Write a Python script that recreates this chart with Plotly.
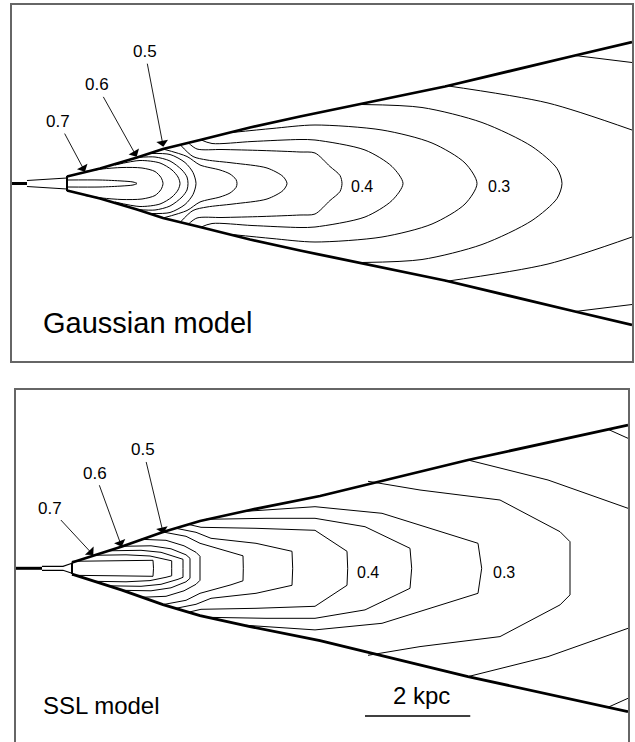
import plotly.graph_objects as go

# Jet surface-brightness contours for two velocity-field models.
# Coordinates are model grid cells: x along the jet from the nozzle,
# y perpendicular to the jet axis (upper half; the model is axisymmetric).
KPC_PER_CELL = 0.019
SCALE_BAR_KPC = 2

# ---------------- Gaussian model ----------------
gauss_nozzle_x = [0, 15]
gauss_tube_x = [15, 48, 55]
gauss_tube_y = [3.0, 4.5, 5.5]
gauss_wall_x = 55
gauss_wall_y = 7.5
gauss_edge_x = [55, 88, 125, 151, 188, 238, 288, 368, 433, 563, 620]
gauss_edge_y = [7.0, 15.0, 26.0, 34.5, 43.5, 56.0, 67.0, 83.5, 97.0, 128.0, 141.5]

gauss_levels = [0.75, 0.7, 0.65, 0.6, 0.55, 0.5, 0.45, 0.4, 0.35, 0.3, 0.25]
gauss_cx = [
    [55, 88, 110, 121, 125],
    [73, 90, 110, 130, 143, 149, 151],
    [103, 128, 148, 160, 166, 168],
    [125, 143, 158, 170, 175, 176],
    [138, 158, 173, 181, 184],
    [151, 175, 188, 208, 218, 224, 225],
    [168, 181, 195, 221, 255, 271, 275],
    [176, 185, 210, 250, 288, 303, 318, 328, 330],
    [188, 200, 240, 288, 303, 353, 380, 391],
    [220, 260, 303, 370, 420, 453, 465],
    [350, 410, 470, 520, 545, 550],
]
gauss_cy = [
    [3.5, 3.5, 2.5, 1.5, 0],
    [12, 14.5, 16, 15.5, 12, 6, 0],
    [18.5, 23, 20.5, 13.5, 6.5, 0],
    [26, 26.5, 22.5, 13.5, 6.5, 0],
    [30, 29, 21, 11, 0],
    [34.5, 27, 18.5, 13.5, 9.5, 4, 0],
    [39, 27, 23.5, 20.5, 15.5, 7, 0],
    [41, 34.5, 34, 33, 31.5, 30.5, 17, 8, 0],
    [44, 40, 42, 44, 43.5, 33.5, 17, 0],
    [51, 55, 58.5, 53.5, 40.5, 20.5, 0],
    [79, 76, 61, 37, 15, 0],
]
# open contours leaving through the right-hand edge
gauss_open_levels = [0.2, 0.15]
gauss_ox = [[433, 536, 620], [563, 620]]
gauss_oy = [[98, 80.5, 53.5], [128, 121]]

gauss_labels = ["0.4", "0.3"]
gauss_label_x = [350, 487]
gauss_label_y = [-3.2, -3.2]
gauss_arrow_text = ["0.7", "0.6", "0.5"]
gauss_arrow_tx = [46.3, 84.7, 133]
gauss_arrow_ty = [61.8, 98.5, 131.8]
gauss_arrow_hx = [73, 124.7, 151.3]
gauss_arrow_hy = [11.8, 26.8, 36.8]

# ---------------- SSL model ----------------
ssl_nozzle_x = [0, 26]
ssl_tube_x = [26, 47, 56]
ssl_tube_y = [2.0, 2.0, 5.0]
ssl_wall_x = 56
ssl_wall_y = 5.8
ssl_edge_x = [56, 77, 106, 147, 184, 234, 284, 304, 452, 612]
ssl_edge_y = [5.8, 12.8, 21.8, 36.3, 47.3, 58.3, 68.3, 72.3, 108.3, 143.3]

ssl_levels = [0.75, 0.7, 0.65, 0.6, 0.55, 0.5, 0.45, 0.4, 0.35, 0.3, 0.25]
ssl_cx = [
    [56, 100, 137, 137.5],
    [77, 110, 134, 150, 155.7, 155.7],
    [92, 125, 145, 162, 167, 167],
    [106, 135, 155, 170, 174, 174],
    [125, 150, 168, 180, 184, 184],
    [147, 170, 184, 215, 227, 227.3],
    [160, 180, 195, 240, 276, 276.7],
    [172, 185, 240, 299, 331, 331.7],
    [190, 250, 299, 349, 394, 395.7],
    [230, 299, 366, 462, 465.7],
    [352, 404, 484, 544, 554, 554],
]
ssl_cy = [
    [7, 7.5, 8, 0],
    [13, 13.5, 12.3, 9, 7.5, 0],
    [17.5, 18, 16, 11, 9, 0],
    [22, 22.5, 19.5, 13.5, 10, 0],
    [29, 28, 22.5, 16, 12, 0],
    [36.3, 32, 25, 16.5, 12.5, 0],
    [40, 36, 30, 25, 17, 0],
    [44, 41, 40, 38, 17, 0],
    [49, 50, 50, 41.6, 20, 0],
    [57, 61.6, 55, 25, 0],
    [87, 78.3, 68.3, 36.6, 26.6, 0],
]
ssl_open_levels = [0.2, 0.15]
ssl_ox = [[452, 532, 612], [592, 612]]
ssl_oy = [[108.3, 88.3, 60], [139, 130]]

ssl_labels = ["0.4", "0.3"]
ssl_label_x = [352, 488]
ssl_label_y = [-4.4, -4.4]
ssl_arrow_text = ["0.7", "0.6", "0.5"]
ssl_arrow_tx = [34, 79, 127.3]
ssl_arrow_ty = [60, 95, 118.3]
ssl_arrow_hx = [77.3, 105.7, 147.3]
ssl_arrow_hy = [13.3, 21.6, 35]


def closed(xs, ys):
    """Upper half plus its mirror image below the axis."""
    x = list(xs) + list(reversed(xs[:-1]))
    y = list(ys) + [-v for v in reversed(ys[:-1])]
    return x, y


def add_panel(fig, xa, ya, nozzle_x, tube_x, tube_y, wall_x, wall_y,
              edge_x, edge_y, cx, cy, ox, oy, smooth):
    shape = "spline" if smooth else "linear"
    thin = dict(color="black", width=1)
    # contours closing on the jet axis
    for xs, ys in zip(cx, cy):
        x, y = closed(xs, ys)
        fig.add_trace(go.Scatter(x=x, y=y, mode="lines", xaxis=xa, yaxis=ya,
                                 line=dict(thin, shape=shape, smoothing=0.8)))
    # contours cut by the frame
    for xs, ys in zip(ox, oy):
        x = list(xs) + [None] + list(xs)
        y = list(ys) + [None] + [-v for v in ys]
        fig.add_trace(go.Scatter(x=x, y=y, mode="lines", xaxis=xa, yaxis=ya,
                                 line=dict(thin, shape=shape, smoothing=0.8),
                                 connectgaps=False))
    # nozzle and inner tube
    fig.add_trace(go.Scatter(x=nozzle_x, y=[0, 0], mode="lines", xaxis=xa, yaxis=ya,
                             line=dict(color="black", width=3)))
    tx = list(tube_x) + [None] + list(tube_x)
    ty = list(tube_y) + [None] + [-v for v in tube_y]
    fig.add_trace(go.Scatter(x=tx, y=ty, mode="lines", xaxis=xa, yaxis=ya,
                             line=dict(color="black", width=1.2)))
    fig.add_trace(go.Scatter(x=[wall_x, wall_x], y=[wall_y, -wall_y], mode="lines",
                             xaxis=xa, yaxis=ya, line=dict(color="black", width=2)))
    # jet boundary
    bx = list(edge_x) + [None] + list(edge_x)
    by = list(edge_y) + [None] + [-v for v in edge_y]
    fig.add_trace(go.Scatter(x=bx, y=by, mode="lines", xaxis=xa, yaxis=ya,
                             line=dict(color="black", width=2.8)))


fig = go.Figure()
add_panel(fig, "x", "y", gauss_nozzle_x, gauss_tube_x, gauss_tube_y, gauss_wall_x,
          gauss_wall_y, gauss_edge_x, gauss_edge_y, gauss_cx, gauss_cy,
          gauss_ox, gauss_oy, smooth=True)
add_panel(fig, "x2", "y2", ssl_nozzle_x, ssl_tube_x, ssl_tube_y, ssl_wall_x,
          ssl_wall_y, ssl_edge_x, ssl_edge_y, ssl_cx, ssl_cy,
          ssl_ox, ssl_oy, smooth=False)

FONT = "Liberation Sans, Arial, sans-serif"
ann = []
for xr, yr, lt, lx, ly in (("x", "y", gauss_labels, gauss_label_x, gauss_label_y),
                           ("x2", "y2", ssl_labels, ssl_label_x, ssl_label_y)):
    for t, x, y in zip(lt, lx, ly):
        ann.append(dict(x=x, y=y, xref=xr, yref=yr, text=t, showarrow=False,
                        font=dict(family=FONT, size=16, color="black")))
for xr, yr, at, tx, ty, hx, hy in (
        ("x", "y", gauss_arrow_text, gauss_arrow_tx, gauss_arrow_ty, gauss_arrow_hx, gauss_arrow_hy),
        ("x2", "y2", ssl_arrow_text, ssl_arrow_tx, ssl_arrow_ty, ssl_arrow_hx, ssl_arrow_hy)):
    for t, a, b, c, d in zip(at, tx, ty, hx, hy):
        ann.append(dict(x=c, y=d, ax=a, ay=b, xref=xr, yref=yr, axref=xr, ayref=yr,
                        text=t, showarrow=True, arrowhead=1, arrowsize=2.2,
                        arrowwidth=0.9, arrowcolor="black", standoff=0, startstandoff=1,
                        font=dict(family=FONT, size=17, color="black")))

ann.append(dict(x=29, y=-139.5, xref="x", yref="y", text="Gaussian model",
                showarrow=False, xanchor="left",
                font=dict(family=FONT, size=29, color="black")))
ann.append(dict(x=24.5, y=-137, xref="x2", yref="y2", text="SSL model",
                showarrow=False, xanchor="left",
                font=dict(family=FONT, size=24, color="black")))

# scale bar
bar_cells = SCALE_BAR_KPC / KPC_PER_CELL
bar_x0 = 349
fig.add_trace(go.Scatter(x=[bar_x0, bar_x0 + bar_cells], y=[-147.7, -147.7], mode="lines",
                         xaxis="x2", yaxis="y2", line=dict(color="black", width=1.5)))
ann.append(dict(x=bar_x0 + bar_cells / 2 + 4, y=-127, xref="x2", yref="y2",
                text=f"{SCALE_BAR_KPC} kpc", showarrow=False,
                font=dict(family=FONT, size=24, color="black")))

W, H = 635, 742
frame = dict(showgrid=False, zeroline=False, showticklabels=False, ticks="")
fig.update_layout(
    width=W, height=H, margin=dict(l=0, r=0, t=0, b=0),
    paper_bgcolor="white", plot_bgcolor="white", showlegend=False,
    xaxis=dict(frame, domain=[12 / W, 632 / W], range=[0, 620],
               showline=True, mirror=True, linecolor="#666", linewidth=1.5),
    yaxis=dict(frame, domain=[1 - 361 / H, 1 - 5 / H], range=[-177.5, 178.5],
               showline=True, mirror=True, linecolor="#666", linewidth=1.5),
    xaxis2=dict(frame, domain=[16 / W, 628 / W], range=[0, 612], anchor="y2",
                side="top", showline=True, mirror=False, linecolor="#666", linewidth=1.5),
    yaxis2=dict(frame, domain=[0, 1 - 390 / H], range=[-173.7, 178.3], anchor="x2",
                showline=True, mirror=True, linecolor="#666", linewidth=1.5),
    annotations=ann,
)

fig.write_html("out.html")
